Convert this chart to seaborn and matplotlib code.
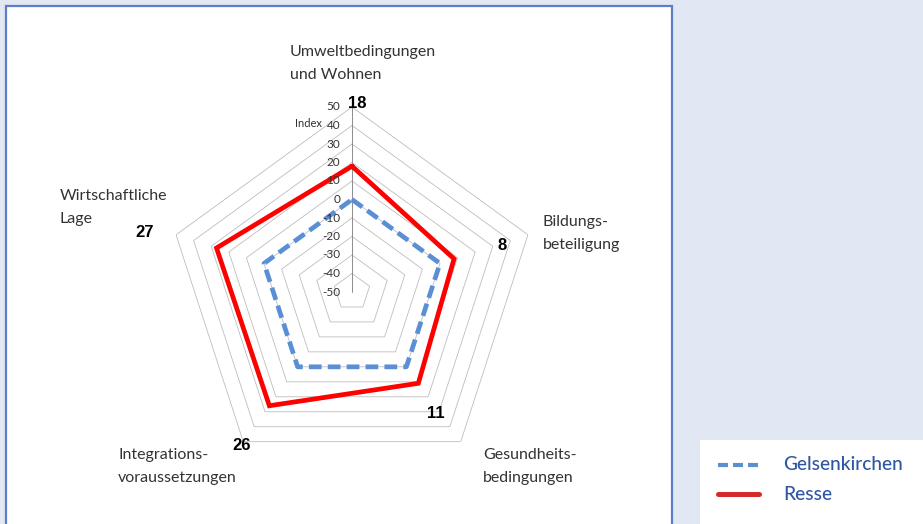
import numpy as np
import pandas as pd
import matplotlib
matplotlib.use("Agg")
import matplotlib.pyplot as plt
from matplotlib.patches import Rectangle
from matplotlib.lines import Line2D
import seaborn as sns

# ---- data -------------------------------------------------------------
categories = [
    "Umweltbedingungen\nund Wohnen",
    "Bildungs-\nbeteiligung",
    "Gesundheits-\nbedingungen",
    "Integrations-\nvoraussetzungen",
    "Wirtschaftliche\nLage",
]
gelsenkirchen = [0, 0, 0, 0, 0]
resse = [18, 8, 11, 26, 27]
series_names = ["Gelsenkirchen", "Resse"]
r_ticks = [-50, -40, -30, -20, -10, 0, 10, 20, 30, 40, 50]
axis_title = "Index"

# ---- style --------------------------------------------------------------
sns.set_theme(style="white")
plt.rcParams["font.family"] = ["Lato", "DejaVu Sans"]

W, H = 923, 524
BG = "#e1e7f3"
PANEL_EDGE = "#5b7ec4"
GRID = "#bdbdbd"
BLUE = "#5a8fd6"
RED = "#ff0000"
TEXT = "#333333"
LEGEND_TEXT = "#2f56a3"


def fx(x):
    return x / W


def fy(y):
    return 1 - y / H


fig = plt.figure(figsize=(W / 100, H / 100), dpi=100, facecolor=BG)

# white chart panel with blue frame (runs off the bottom edge)
fig.patches.append(Rectangle((fx(6), fy(530)), fx(672) - fx(6), fy(6) - fy(530),
                             transform=fig.transFigure, facecolor="white",
                             edgecolor=PANEL_EDGE, linewidth=1.6, zorder=-2))
# legend box
fig.patches.append(Rectangle((fx(700), 0), fx(923) - fx(700), fy(440),
                             transform=fig.transFigure, facecolor="white",
                             edgecolor="none", zorder=-2))

# ---- radar axes ----------------------------------------------------------
cx, cy, rad = 352, 292, 185
ax = fig.add_axes([fx(cx - rad), fy(cy + rad), 2 * rad / W, 2 * rad / H],
                  projection="polar")
ax.set_theta_zero_location("N")
ax.set_theta_direction(-1)
ax.set_ylim(r_ticks[0], r_ticks[-1])
ax.set_axis_off()

n = len(categories)
theta = np.linspace(0, 2 * np.pi, n, endpoint=False)
theta_closed = np.append(theta, 2 * np.pi)

# pentagon rings
for v in r_ticks[1:]:
    ax.plot(theta_closed, [v] * (n + 1), color=GRID, lw=0.6, zorder=1)
# value axis
ax.plot([0, 0], [r_ticks[0], r_ticks[-1]], color="#8c8c8c", lw=0.7, zorder=1)

# series
rows = []
for name, vals in zip(series_names, [gelsenkirchen, resse]):
    for t, v in zip(theta_closed, vals + vals[:1]):
        rows.append({"region": name, "theta": t, "value": v})
df = pd.DataFrame(rows)

sns.lineplot(data=df, x="theta", y="value", hue="region", style="region",
             palette={"Gelsenkirchen": BLUE, "Resse": RED},
             dashes={"Gelsenkirchen": (2.7, 1.3), "Resse": ""},
             linewidth=3.4, sort=False, estimator=None, legend=False,
             solid_joinstyle="miter", ax=ax, zorder=3)
ax.set_xlabel("")
ax.set_ylabel("")

# tick labels along the value axis
for v in r_ticks:
    ax.annotate(str(v), xy=(0, v), xytext=(-8.5, 0), textcoords="offset points",
                ha="right", va="center", fontsize=8.5, color=TEXT)
ax.annotate(axis_title, xy=(0, 40), xytext=(-22, 1.5), textcoords="offset points",
            ha="right", va="center", fontsize=8, color=TEXT)

# Resse value labels
value_pos = [(357, 104), (502, 246), (436, 413), (242, 445), (145, 232)]
for (x, y), v in zip(value_pos, resse):
    fig.text(fx(x), fy(y), str(v), ha="center", va="center", fontsize=12,
             fontweight="bold", family=["Liberation Sans", "DejaVu Sans"],
             color="black")

# category labels
cat_pos = [(290, 56), (543, 226), (483, 459), (118, 459), (60, 200)]
for (x, y), label in zip(cat_pos, categories):
    for i, line in enumerate(label.split("\n")):
        fig.text(fx(x), fy(y + 23 * i), line, ha="left", va="baseline",
                 fontsize=11.5, color=TEXT)

# ---- legend ----------------------------------------------------------
fig.lines.append(Line2D([fx(718), fx(759)], [fy(465), fy(465)],
                        transform=fig.transFigure, color="#5b8fcf", lw=3,
                        dashes=(2.4, 1.2)))
fig.lines.append(Line2D([fx(718), fx(759)], [fy(494), fy(494)],
                        transform=fig.transFigure, color="#d42a2a", lw=3.6))
for y, name in zip([465, 494], series_names):
    fig.text(fx(783), fy(y), name, ha="left", va="center", fontsize=13.8,
             fontweight="medium", color=LEGEND_TEXT)

fig.savefig("out.png", dpi=100, facecolor=BG)
